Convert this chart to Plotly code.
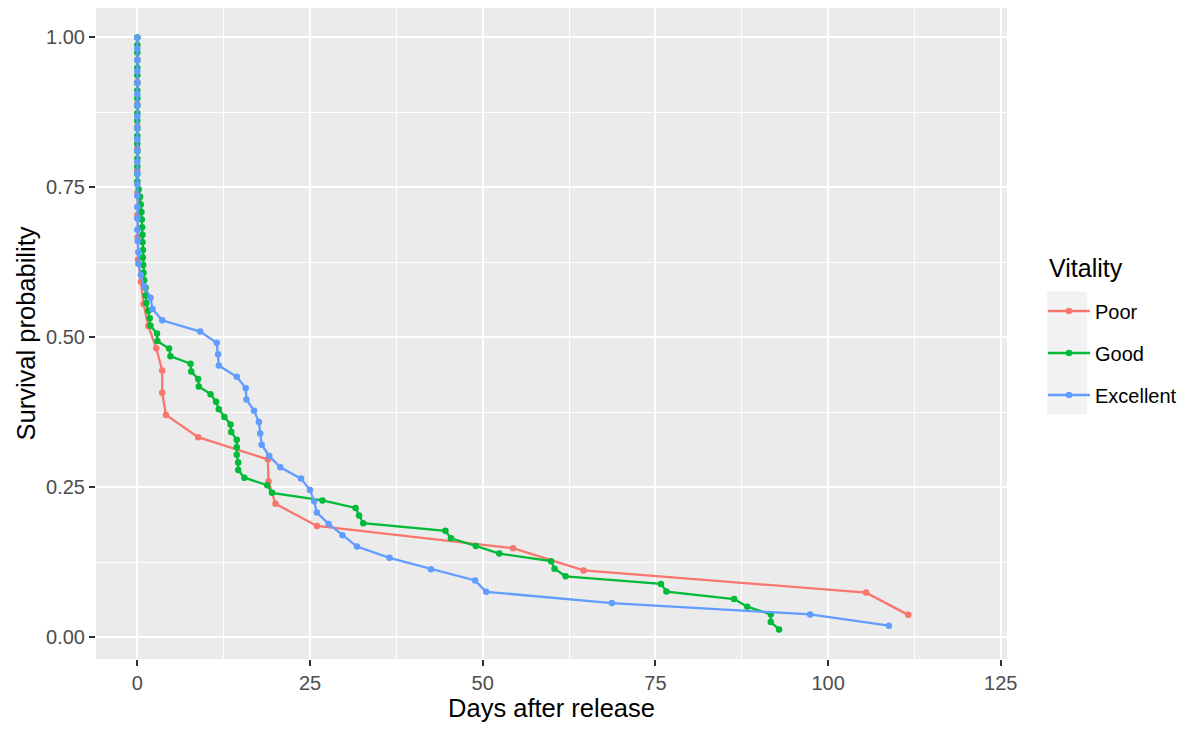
import plotly.graph_objects as go

# ---------------- data ----------------
poor_days = [0, 0, 0, 0, 0, 0, 0, 0, 0, 0.05, 0.1, 0.5, 0.9, 1.6, 2.75, 3.6, 3.6,
             4.15, 8.8, 18.9, 19.0, 20.0, 26.0, 54.4, 64.6, 105.5, 111.6]
poor_surv = [1.0000, 0.9630, 0.9259, 0.8889, 0.8519, 0.8148, 0.7778, 0.7407, 0.7037,
             0.6667, 0.6296, 0.5926, 0.5556, 0.5185, 0.4815, 0.4444, 0.4074, 0.3704,
             0.3333, 0.2963, 0.2593, 0.2222, 0.1852, 0.1481, 0.1111, 0.0741, 0.0370]

good_days = [0] * 20 + [0.2, 0.4, 0.5, 0.6, 0.65, 0.7, 0.75, 0.75, 0.8, 0.8,
             0.85, 0.9, 1.0, 1.2, 1.2, 1.3, 1.6, 1.8, 1.9, 2.85,
             2.9, 4.6, 4.8, 7.7, 7.8, 8.8, 8.9, 10.6, 11.4, 11.8,
             12.6, 13.5, 13.6, 14.4, 14.4, 14.4, 14.6, 14.6, 15.5, 18.8,
             19.5, 26.8, 31.6, 32.1, 32.7, 44.6, 45.4, 49.0, 52.4, 59.9,
             60.4, 62.0, 75.8, 76.6, 86.4, 88.3, 91.7, 91.7, 92.9]
good_surv = [1.0000, 0.9873, 0.9747, 0.9620, 0.9494, 0.9367, 0.9241, 0.9114, 0.8987,
             0.8861, 0.8734, 0.8608, 0.8481, 0.8354, 0.8228, 0.8101, 0.7975, 0.7848,
             0.7722, 0.7595, 0.7468, 0.7342, 0.7215, 0.7089, 0.6962, 0.6835, 0.6709,
             0.6582, 0.6456, 0.6329, 0.6203, 0.6076, 0.5949, 0.5823, 0.5696, 0.5570,
             0.5443, 0.5316, 0.5190, 0.5063, 0.4937, 0.4810, 0.4684, 0.4557, 0.4430,
             0.4304, 0.4177, 0.4051, 0.3924, 0.3797, 0.3671, 0.3544, 0.3418, 0.3291,
             0.3165, 0.3038, 0.2911, 0.2785, 0.2658, 0.2532, 0.2405, 0.2278, 0.2152,
             0.2025, 0.1899, 0.1772, 0.1646, 0.1519, 0.1392, 0.1266, 0.1139, 0.1013,
             0.0886, 0.0759, 0.0633, 0.0506, 0.0380, 0.0253, 0.0127]

excellent_days = [0] * 18 + [0.05, 0.15, 0.15, 0.5, 1.0, 1.9, 2.2, 3.6, 9.1, 11.5,
                  11.7, 11.8, 14.4, 15.7, 15.8, 16.9, 17.6, 17.8, 18.0, 19.1,
                  20.7, 23.7, 25.0, 25.6, 26.0, 27.7, 29.7, 31.8, 36.5, 42.5,
                  48.9, 50.5, 68.7, 97.4, 108.8]
excellent_surv = [1.0000, 0.9811, 0.9623, 0.9434, 0.9245, 0.9057, 0.8868, 0.8679,
                  0.8491, 0.8302, 0.8113, 0.7925, 0.7736, 0.7547, 0.7358, 0.7170,
                  0.6981, 0.6792, 0.6604, 0.6415, 0.6226, 0.6038, 0.5849, 0.5660,
                  0.5472, 0.5283, 0.5094, 0.4906, 0.4717, 0.4528, 0.4340, 0.4151,
                  0.3962, 0.3774, 0.3585, 0.3396, 0.3208, 0.3019, 0.2830, 0.2642,
                  0.2453, 0.2264, 0.2075, 0.1887, 0.1698, 0.1509, 0.1321, 0.1132,
                  0.0943, 0.0755, 0.0566, 0.0377, 0.0189]

series_names = ["Poor", "Good", "Excellent"]
series_colors = ["#F8766D", "#00BA38", "#619CFF"]
legend_title = "Vitality"

x_ticks = [0, 25, 50, 75, 100, 125]
y_ticks = [0.0, 0.25, 0.5, 0.75, 1.0]
y_tick_labels = ["0.00", "0.25", "0.50", "0.75", "1.00"]

# ---------------- figure ----------------
fig = go.Figure()
data = [(poor_days, poor_surv), (good_days, good_surv), (excellent_days, excellent_surv)]
for (xs, ys), name, col in zip(data, series_names, series_colors):
    fig.add_trace(go.Scatter(
        x=xs, y=ys, name=name, mode="lines+markers", legendgroup=name,
        line=dict(color=col, width=2.3),
        marker=dict(color=col, size=6.5),
    ))

W, H = 1196, 729
ml, mr, mt, mb = 96, 189, 8, 70
pw = W - ml - mr
ph = H - mt - mb


def px_x(p):
    return (p - ml) / pw


def px_y(p):
    return (H - mb - p) / ph


grid_major = dict(showgrid=True, gridcolor="white", gridwidth=2.2)
fig.update_layout(
    width=W, height=H, autosize=False,
    margin=dict(l=ml, r=mr, t=mt, b=mb, pad=0),
    paper_bgcolor="white", plot_bgcolor="#EBEBEB",
    font=dict(family="Liberation Sans, Arial, sans-serif", color="#4D4D4D"),
    showlegend=True,
    legend=dict(
        font=dict(size=20, color="black"),
        x=px_x(1043), xanchor="left", y=px_y(353), yanchor="middle",
        bgcolor="rgba(0,0,0,0)", itemwidth=42, tracegroupgap=13,
    ),
    shapes=[dict(type="rect", xref="paper", yref="paper",
                 x0=px_x(1047), x1=px_x(1087), y0=px_y(414.5), y1=px_y(291.5),
                 fillcolor="#F2F2F2", line=dict(width=0), layer="below")],
    annotations=[dict(text=legend_title, xref="paper", yref="paper",
                      x=px_x(1047), y=px_y(268), xanchor="left", yanchor="middle",
                      showarrow=False, font=dict(size=25, color="black"))],
)
fig.update_xaxes(
    range=[-5.98, 125.9], tickvals=x_ticks, ticktext=[str(t) for t in x_ticks],
    zeroline=False, **grid_major,
    minor=dict(showgrid=True, gridcolor="white", gridwidth=1.1, dtick=12.5, tick0=12.5),
    ticks="outside", ticklen=6, tickwidth=2, tickcolor="#333333",
    tickfont=dict(size=20, color="#4D4D4D"),
    title=dict(text="Days after release", font=dict(size=25.5, color="black"), standoff=6),
    showline=False,
)
fig.update_yaxes(
    range=[-0.0366, 1.049], tickvals=y_ticks, ticktext=y_tick_labels,
    zeroline=False, **grid_major,
    minor=dict(showgrid=True, gridcolor="white", gridwidth=1.1, dtick=0.125, tick0=0.125),
    ticks="outside", ticklen=6, tickwidth=2, tickcolor="#333333",
    tickfont=dict(size=20, color="#4D4D4D"),
    title=dict(text="Survival probability", font=dict(size=25.5, color="black"), standoff=3),
    showline=False,
)

fig.write_html("out.html")
